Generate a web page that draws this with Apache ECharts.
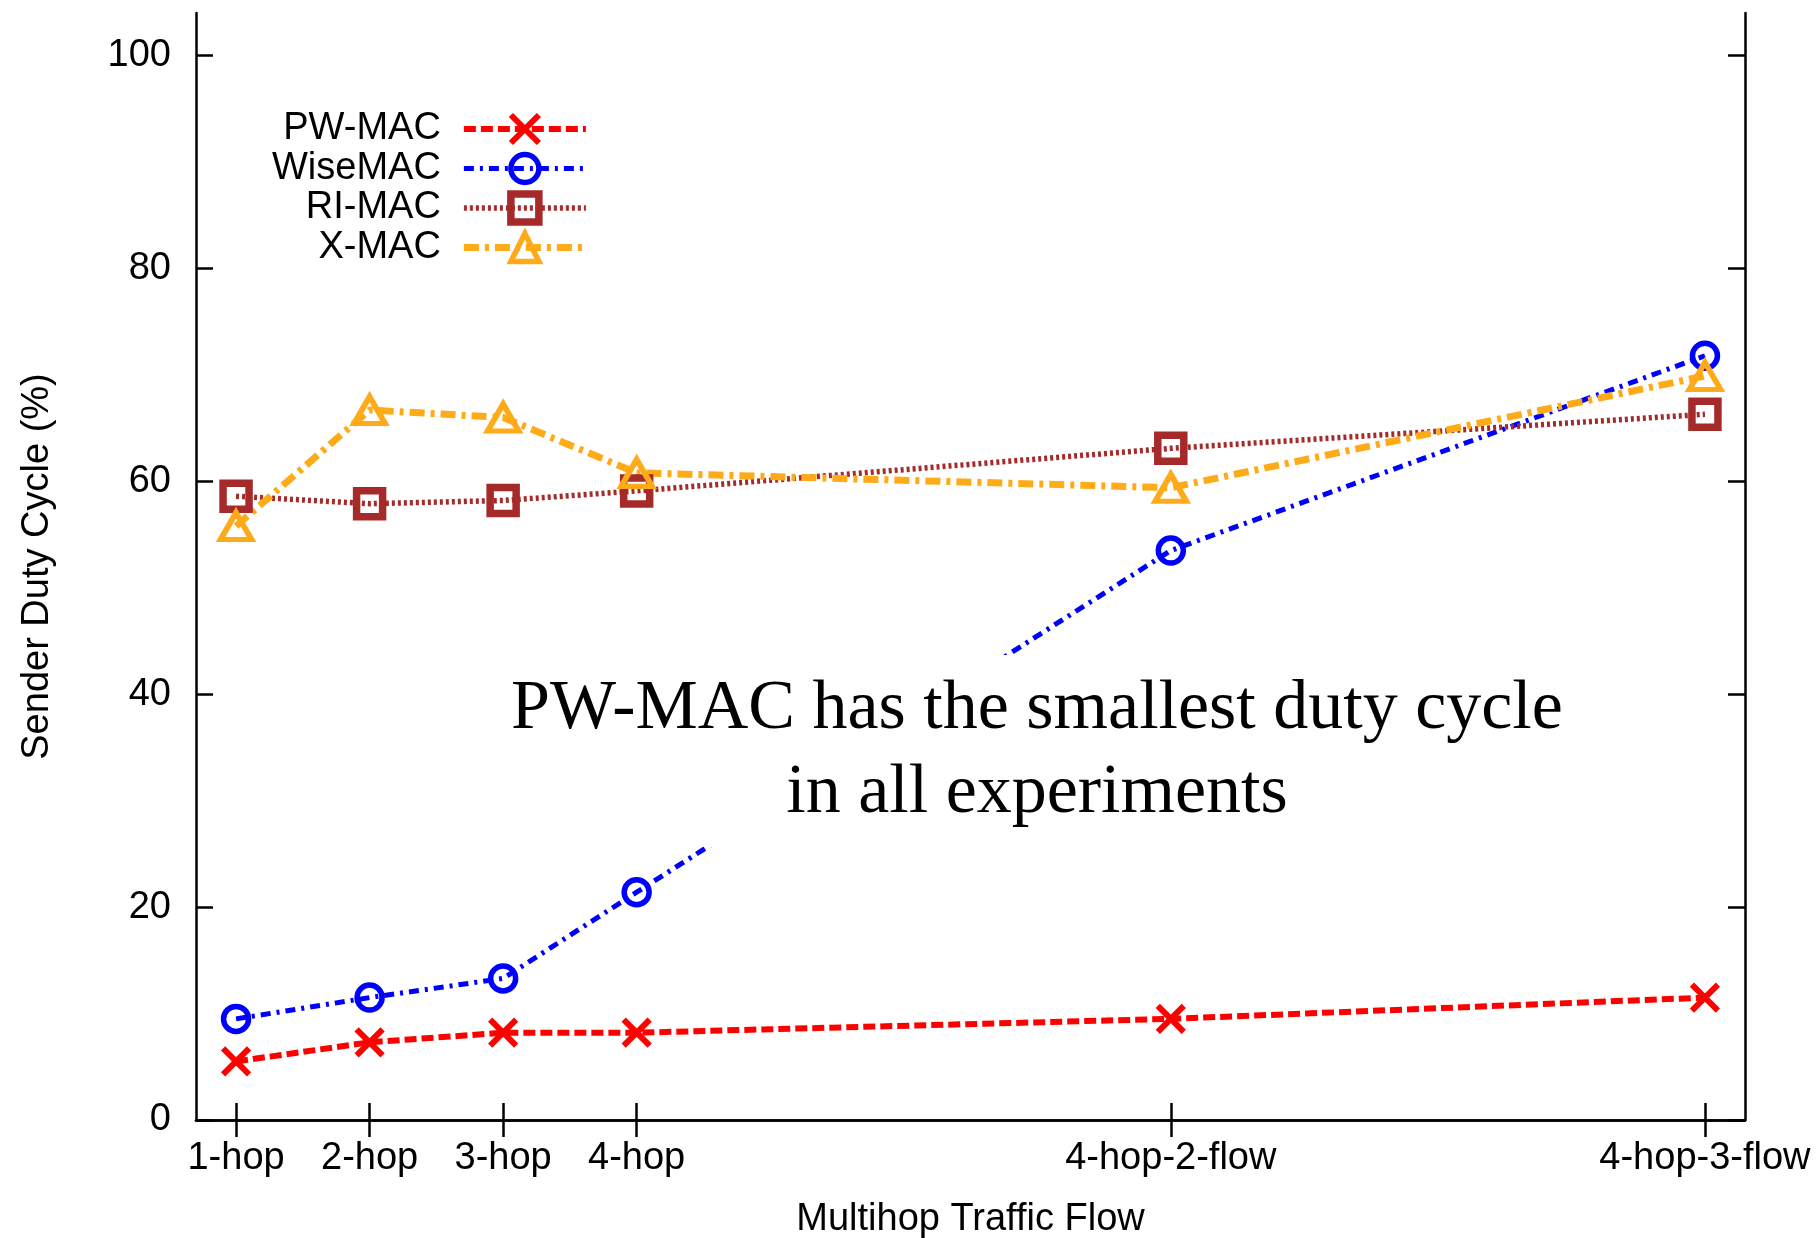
<!DOCTYPE html>
<html>
<head>
<meta charset="utf-8">
<script src="https://cdn.jsdelivr.net/npm/echarts@6.0.0/dist/echarts.min.js"></script>
<style>
  html, body { margin: 0; padding: 0; background: #fff; }
  #chart { width: 1818px; height: 1238px; }
</style>
</head>
<body>
<div id="chart"></div>
<script>
// data
var categories = ["1-hop", "2-hop", "3-hop", "4-hop", "4-hop-2-flow", "4-hop-3-flow"];
var xPositions = [1, 2, 3, 4, 8, 12];
var yTicks = [0, 20, 40, 60, 80, 100];
var seriesNames = ["PW-MAC", "WiseMAC", "RI-MAC", "X-MAC"];
var pwmac = [5.5, 7.3, 8.2, 8.2, 9.5, 11.5];
var wisemac = [9.5, 11.5, 13.3, 21.4, 53.5, 71.8];
var rimac = [58.6, 57.9, 58.2, 59.1, 63.1, 66.3];
var xmac = [55.8, 66.7, 66.0, 60.8, 59.4, 69.9];

var sansFont = "'Liberation Sans', Arial, sans-serif";
var serifFont = "'Liberation Serif', 'Times New Roman', serif";

// style of each line (gnuplot look)
var styles = [
  { color: "#ff0000", symbol: "path://M0,0L10,10M10,0L0,10", size: 26, border: 6, width: 6, dash: [12, 5] },
  { color: "#0000ff", symbol: "circle", size: 25, border: 5.5, width: 5, dash: [10, 6, 3, 6] },
  { color: "#a52a2a", symbol: "rect", size: 26, border: 7.5, width: 5.5, dash: [3, 3] },
  { color: "#ffab19", symbol: "triangle", size: [31, 27], border: 5.5, width: 7, dash: [15, 6, 4, 6] }
];
var values = [pwmac, wisemac, rimac, xmac];

function toPoints(arr) {
  return xPositions.map(function (x, i) { return [x, arr[i]]; });
}

var series = seriesNames.map(function (name, k) {
  var s = styles[k];
  return {
    name: name,
    type: "line",
    data: toPoints(values[k]),
    symbol: s.symbol,
    symbolSize: s.size,
    showAllSymbol: true,
    lineStyle: { color: s.color, width: s.width, type: s.dash },
    itemStyle: { color: "rgba(0,0,0,0)", borderColor: s.color, borderWidth: s.border },
    emphasis: { disabled: true }
  };
});

var legendData = seriesNames.map(function (name, k) {
  var s = styles[k];
  return {
    name: name,
    itemStyle: { color: "rgba(0,0,0,0)", borderColor: s.color, borderWidth: s.border },
    lineStyle: { color: s.color, width: s.width, type: s.dash }
  };
});

var tickStyle = { show: true, inside: true, length: 17, lineStyle: { color: "#000", width: 2.5 } };
var lineAxis = { show: true, lineStyle: { color: "#000", width: 2.5 } };

var myChart = echarts.init(document.getElementById("chart"));

var option = {
  animation: false,
  backgroundColor: "#fff",
  grid: { left: 196, right: 73, top: 13, bottom: 118, containLabel: false, outerBoundsMode: "none" },
  legend: {
    orient: "vertical",
    align: "right",
    left: 272,
    top: 110,
    padding: 0,
    itemWidth: 122,
    itemHeight: 35,
    itemGap: 1.5,
    selectedMode: false,
    textStyle: { fontFamily: sansFont, fontSize: 38, color: "#000", lineHeight: 35, padding: [0, 18, 0, 0] },
    data: legendData
  },
  xAxis: [
    {
      type: "value",
      position: "bottom",
      min: 0.7,
      max: 12.3,
      name: "Multihop Traffic Flow",
      nameLocation: "middle",
      nameGap: 81,
      nameTextStyle: { fontFamily: sansFont, fontSize: 38, color: "#000" },
      axisLine: lineAxis,
      axisTick: Object.assign({ customValues: xPositions }, tickStyle),
      axisLabel: {
        customValues: xPositions,
        margin: 20,
        fontFamily: sansFont,
        fontSize: 38,
        color: "#000",
        formatter: function (v) { return categories[xPositions.indexOf(v)]; }
      },
      splitLine: { show: false }
    },
    {
      type: "value",
      position: "top",
      min: 0.7,
      max: 12.3,
      axisLine: lineAxis,
      axisTick: Object.assign({ customValues: xPositions }, tickStyle),
      axisLabel: { show: false },
      splitLine: { show: false }
    }
  ],
  yAxis: [
    {
      type: "value",
      position: "left",
      min: 0,
      max: 104,
      name: "Sender Duty Cycle (%)",
      nameLocation: "middle",
      nameRotate: 90,
      nameGap: 139,
      nameTextStyle: { fontFamily: sansFont, fontSize: 38, color: "#000" },
      axisLine: lineAxis,
      axisTick: Object.assign({ customValues: yTicks }, tickStyle),
      axisLabel: { customValues: yTicks, margin: 25, fontFamily: sansFont, fontSize: 38, color: "#000" },
      splitLine: { show: false }
    },
    {
      type: "value",
      position: "right",
      min: 0,
      max: 104,
      axisLine: lineAxis,
      axisTick: Object.assign({ customValues: yTicks }, tickStyle),
      axisLabel: { show: false },
      splitLine: { show: false }
    }
  ],
  series: series,
  graphic: [
    {
      type: "rect",
      z: 100,
      shape: { x: 495, y: 655, width: 1085, height: 192 },
      style: { fill: "#fff" }
    },
    {
      type: "text",
      z: 101,
      x: 1037,
      y: 752,
      style: {
        text: "PW-MAC has the smallest duty cycle\nin all experiments",
        font: "70px " + serifFont,
        fill: "#000",
        align: "center",
        verticalAlign: "middle",
        lineHeight: 84
      }
    }
  ]
};

myChart.setOption(option);
</script>
</body>
</html>
